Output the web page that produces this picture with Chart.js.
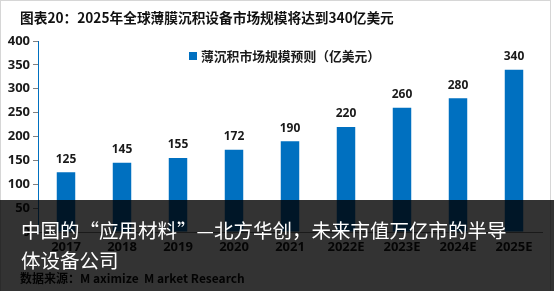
<!DOCTYPE html>
<html><head><meta charset="utf-8">
<script src="https://cdn.jsdelivr.net/npm/chart.js@4"></script>
<style>
html,body{margin:0;padding:0;background:#fff;}
#wrap{position:relative;width:554px;height:291px;overflow:hidden;font-family:"Noto Sans CJK SC","Noto Sans",sans-serif;}
#frame{position:absolute;left:0;top:0;width:551px;height:300px;border:1px solid #d6d6d6;box-sizing:border-box;}
#title{position:absolute;left:20px;top:7px;font-size:13.7px;font-weight:bold;color:#111;white-space:nowrap;line-height:20px;}
#src{position:absolute;left:20px;top:269px;font-size:12px;font-weight:bold;color:#111;white-space:nowrap;line-height:18px;}
#cv{position:absolute;left:0;top:0;}
#overlay{position:absolute;left:0;top:200px;width:554px;height:91px;background:rgba(0,0,0,0.8);}
#otext{position:absolute;left:21px;top:215px;font-size:19.5px;color:#fff;line-height:30px;white-space:nowrap;}
</style></head>
<body>
<div id="wrap">
<canvas id="cv" width="554" height="291"></canvas>
<div id="frame"></div>
<div id="title">图表20：2025年全球薄膜沉积设备市场规模将达到340亿美元</div>
<div id="src">数据来源：M aximize&nbsp; M arket Research</div>
<div id="overlay"></div>
<div id="otext">中国的“应用材料”—北方华创，未来市值万亿市的半导<br>体设备公司</div>
</div>
<script>
const categories = ["2017","2018","2019","2020","2021","2022E","2023E","2024E","2025E"];
const marketSize = [125,145,155,172,190,220,260,280,340];
const seriesName = "薄沉积市场规模预则（亿美元）";
const yTicks = [0,50,100,150,200,250,300,350,400];

const BLUE = "#0070C0";
const FONT = "'Open Sans','Noto Sans CJK SC',sans-serif";

const labelPlugin = {
  id: "valueLabels",
  afterDatasetsDraw(chart) {
    const ctx = chart.ctx;
    const meta = chart.getDatasetMeta(0);
    ctx.save();
    ctx.font = "bold 12px " + FONT;
    ctx.fillStyle = "#1a1a1a";
    ctx.textAlign = "center";
    ctx.textBaseline = "middle";
    meta.data.forEach((bar, i) => {
      ctx.fillText(String(marketSize[i]), bar.x, bar.y - 13);
    });
    ctx.restore();
  }
};
const legendPlugin = {
  id: "customLegend",
  afterDraw(chart) {
    const ctx = chart.ctx;
    ctx.save();
    ctx.fillStyle = BLUE;
    ctx.fillRect(189, 52, 8, 8);
    ctx.font = "bold 12.8px 'Noto Sans CJK SC',sans-serif";
    ctx.fillStyle = "#1a1a1a";
    ctx.textBaseline = "middle";
    ctx.textAlign = "left";
    ctx.fillText(seriesName, 201, 56);
    ctx.restore();
  }
};

new Chart(document.getElementById("cv"), {
  type: "bar",
  data: {
    labels: categories,
    datasets: [{
      label: seriesName,
      data: marketSize,
      backgroundColor: BLUE,
      barPercentage: 0.33,
      categoryPercentage: 1.0
    }]
  },
  options: {
    responsive: false,
    animation: false,
    devicePixelRatio: 1,
    layout: { padding: { left: 0, right: 12, top: 41, bottom: 0 } },
    plugins: { legend: { display: false }, tooltip: { enabled: false } },
    scales: {
      x: {
        grid: { display: false, drawTicks: false },
        border: { display: true, color: "#808080", width: 1 },
        ticks: { font: { size: 13, weight: "bold", family: FONT }, color: "#1a1a1a", padding: 7, maxRotation: 0 },
        afterFit(s) { s.height = 59; }
      },
      y: {
        min: 0, max: 400,
        afterBuildTicks(s) { s.ticks = yTicks.map(v => ({ value: v })); },
        grid: { drawOnChartArea: false, drawTicks: true, tickLength: 5, color: "#808080" },
        border: { display: true, color: BLUE, width: 1 },
        ticks: { font: { size: 13, weight: "bold", family: FONT }, color: "#1a1a1a", padding: 3 },
        afterFit(s) { s.width = 38; }
      }
    }
  },
  plugins: [labelPlugin, legendPlugin]
});
</script>
</body></html>
